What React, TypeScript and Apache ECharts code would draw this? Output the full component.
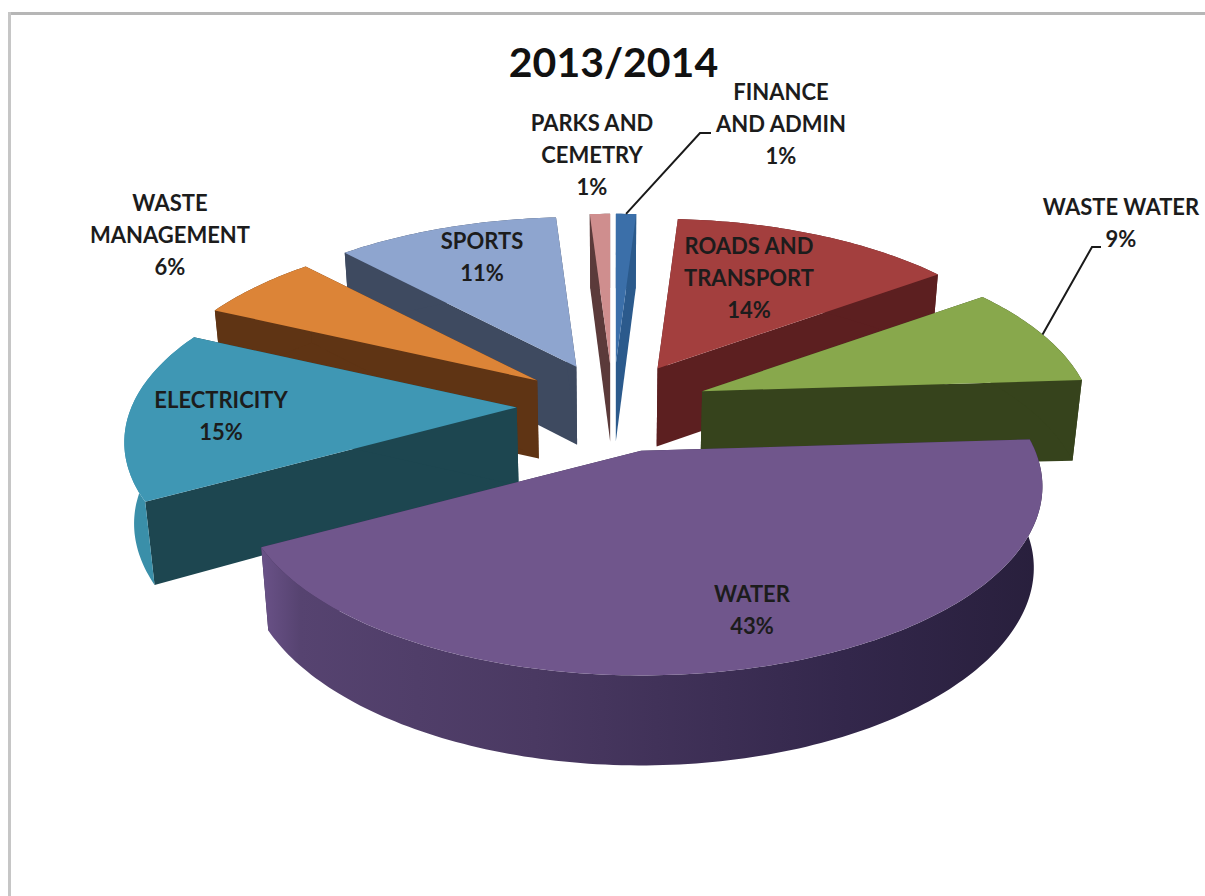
import React, { useEffect, useRef } from "react";
import * as echarts from "echarts";

const TITLE = "2013/2014";
const categories = [
  "FINANCE\nAND ADMIN",
  "ROADS AND\nTRANSPORT",
  "WASTE WATER",
  "WATER",
  "ELECTRICITY",
  "WASTE\nMANAGEMENT",
  "SPORTS",
  "PARKS AND\nCEMETRY",
];
const values = [1, 14, 9, 43, 15, 6, 11, 1];

const topColors = ["#3b6fa9", "#a33f3e", "#88a84c", "#70568c", "#3f97b4", "#dc8437", "#8ea5cf", "#cf8e8e"];
const faceColors = ["#2b5a8c", "#5c1f20", "#36431c", "#3a2d50", "#1d4650", "#5f3414", "#3e4a60", "#5b3a3a"];
const rimColors = ["#2b5a8c", "#5c1f20", "#36431c", "#5d4777", "#3a8fa9", "#5f3414", "#3e4a60", "#5b3a3a"];
// label anchor (centre of the block), as layout style
const labelPos = [
  [781, 123], [749, 277], [1121, 222], [752, 609], [221, 415], [170, 234], [482, 256], [592, 154],
];
// elbow of a leader line relative to the label side, for slices with a leader
const leaders: Record<number, number[][]> = {
  0: [[700, 133], [711, 133]],
  2: [[1092, 247], [1101, 247]],
};

// projection layout
const CX = 613, CY = 406, RX = 385, RY = 178, PERSP = 0.189, EXPLODE = 0.25;
const total = values.reduce((a, b) => a + b, 0);
const deg = Math.PI / 180;
const starts: number[] = [];
values.reduce((acc, v, i) => { starts[i] = acc; return acc + (v / total) * 360; }, 0);
const mids = values.map((v, i) => starts[i] + ((v / total) * 360) / 2);
const order = mids.map((m, i) => [Math.cos(m * deg), i]).sort((a, b) => b[0] - a[0]).map((p) => p[1]);

const scale = (c: number) => 1 / (1 + PERSP * c);
function apexOf(i: number) {
  const a = mids[i] * deg, c = Math.cos(a) * EXPLODE;
  return [CX + RX * EXPLODE * Math.sin(a) * scale(c), CY - RY * c * scale(c)];
}
// slices pulled toward the viewer look slightly larger
function sliceScale(i: number) {
  const c = Math.cos(mids[i] * deg) * EXPLODE;
  return c < 0 ? Math.sqrt(scale(c)) : 1;
}
function rimPoint(i: number, apex: number[], th: number) {
  const a = th * deg, s = scale(Math.cos(a)) * sliceScale(i);
  return [apex[0] + RX * Math.sin(a) * s, apex[1] - RY * Math.cos(a) * s];
}
function depthAt(th: number) {
  const c = Math.cos(th * deg);
  return c < 0 ? 81 + 9 * c * c : 81 - 6.5 * c;
}
function drop(p: number[], d: number) {
  return [CX + (p[0] - CX) * 0.98, p[1] + d];
}

function renderItem(params: any, api: any) {
  const i = params.dataIndex;
  const v = api.value(0);
  const sweep = (v / total) * 360;
  const a0 = starts[i];
  const apex = apexOf(i);
  const rank = order.indexOf(i);
  const base = (rank + 1) * 10;
  const n = Math.max(2, Math.ceil(sweep));
  const arc: number[][] = [];
  const lowArc: number[][] = [];
  for (let k = 0; k <= n; k++) {
    const th = a0 + (sweep * k) / n;
    const p = rimPoint(i, apex, th);
    arc.push(p);
    lowArc.push(drop(p, depthAt(th)));
  }
  const apexLow = drop(apex, 78);
  const face = (p: number[], pl: number[]) => ({
    type: "polygon",
    z2: base,
    shape: { points: [apex, p, pl, apexLow] },
    style: { fill: faceColors[i] },
  });
  const rimFill =
    i === 3
      ? {
          type: "linear", x: 0, y: 0, x2: 1, y2: 0,
          colorStops: [
            { offset: 0, color: "#6a5288" },
            { offset: 0.05, color: "#564370" },
            { offset: 0.35, color: "#4a3962" },
            { offset: 0.75, color: "#33274b" },
            { offset: 1, color: "#281f3c" },
          ],
        }
      : rimColors[i];
  const children: any[] = [
    face(arc[0], lowArc[0]),
    face(arc[n], lowArc[n]),
    {
      type: "polygon",
      z2: base + 1,
      shape: { points: [...arc, ...lowArc.slice().reverse()] },
      style: { fill: rimFill },
    },
    {
      type: "polygon",
      z2: base + 2,
      shape: { points: [apex, ...arc] },
      style: { fill: topColors[i] },
    },
    {
      type: "text",
      z2: 1000,
      x: labelPos[i][0],
      y: labelPos[i][1],
      style: {
        text: `${categories[i]}\n${Math.round((v / total) * 100)}%`,
        fill: "#1c1c1c",
        fontFamily: "Lato",
        fontWeight: "bold",
        fontSize: 22,
        lineHeight: 32,
        align: "center",
        verticalAlign: "middle",
      },
    },
  ];
  if (leaders[i]) {
    const start = rimPoint(i, apex, mids[i]);
    children.push({
      type: "polyline",
      z2: 999,
      shape: { points: [start, ...leaders[i]] },
      style: { fill: "none", stroke: "#1a1a1a", lineWidth: 2 },
    });
  }
  return { type: "group", children };
}

export default function App() {
  const ref = useRef<HTMLDivElement>(null);
  useEffect(() => {
    const chart = echarts.init(ref.current!, undefined, { renderer: "svg" });
    chart.setOption({
      animation: false,
      backgroundColor: "#ffffff",
      title: {
        text: TITLE,
        left: 613.5,
        top: 36,
        textAlign: "center",
        textStyle: { fontFamily: "Lato", fontWeight: "bold", fontSize: 41, color: "#111111" },
        padding: [5, 10, 5, 0],
      },
      graphic: [
        { type: "line", shape: { x1: 8, y1: 13.5, x2: 1205, y2: 13.5 }, style: { stroke: "#b6b6b6", lineWidth: 3 } },
        { type: "line", shape: { x1: 9.5, y1: 12, x2: 9.5, y2: 896 }, style: { stroke: "#c6c6c6", lineWidth: 3 } },
      ],
      series: [
        {
          type: "custom",
          coordinateSystem: "none",
          silent: true,
          clip: false,
          renderItem,
          data: values.map((v) => [v]),
        },
      ],
    });
    return () => chart.dispose();
  }, []);
  return <div ref={ref} style={{ position: "absolute", left: 0, top: 0, width: 1205, height: 896 }} />;
}
